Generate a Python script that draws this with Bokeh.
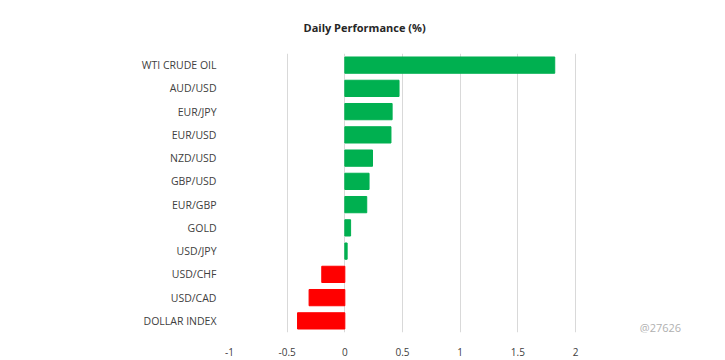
from bokeh.plotting import figure
from bokeh.models import FactorRange, Range1d, FixedTicker, Label, ColumnDataSource, Title
from bokeh.embed import file_html
from bokeh.resources import INLINE

categories = ["WTI CRUDE OIL", "AUD/USD", "EUR/JPY", "EUR/USD", "NZD/USD", "GBP/USD",
              "EUR/GBP", "GOLD", "USD/JPY", "USD/CHF", "USD/CAD", "DOLLAR INDEX"]
values = [1.82, 0.47, 0.41, 0.40, 0.24, 0.21, 0.19, 0.05, 0.02, -0.20, -0.31, -0.41]
x_ticks = [-1, -0.5, 0, 0.5, 1, 1.5, 2]
x_tick_labels = ["-1", "-0.5", "0", "0.5", "1", "1.5", "2"]
title_text = "Daily Performance (%)"
watermark = "@27626"

colors = ["#00B050" if v >= 0 else "#FF0000" for v in values]
src = ColumnDataSource(dict(cat=categories, val=values, color=colors))

# frame runs to the right edge so the watermark can sit inside it; axis ends at 2
px_per_unit = 346 / 3.0
x_end = 2 + 142 / px_per_unit

p = figure(width=717, height=358, output_backend="svg", toolbar_location=None,
           y_range=FactorRange(factors=list(reversed(categories))),
           x_range=Range1d(-1, x_end),
           min_border_left=229, min_border_right=0, min_border_top=53, min_border_bottom=23)
p.outline_line_color = None
p.background_fill_color = "white"
p.border_fill_color = "white"

p.add_layout(Title(text=title_text, align="left", offset=74, standoff=34,
                   vertical_align="top",
                   text_font="Open Sans", text_font_size="11px", text_font_style="bold",
                   text_color="#262626"), "above")

p.hbar(y="cat", left=0, right="val", height=0.7, color="color", source=src)

p.xaxis.ticker = FixedTicker(ticks=x_ticks)
p.xaxis.major_label_overrides = {t: l for t, l in zip(x_ticks, x_tick_labels)}
p.xaxis.axis_line_color = None
p.xaxis.major_tick_line_color = None
p.xaxis.minor_tick_line_color = None
p.xaxis.major_label_standoff = 9
p.xaxis.major_label_text_font = "Open Sans"
p.xaxis.major_label_text_font_size = "10px"
p.xaxis.major_label_text_color = "#404040"

p.yaxis.axis_line_color = None
p.yaxis.major_tick_line_color = None
p.yaxis.minor_tick_line_color = None
p.yaxis.major_label_standoff = 7
p.yaxis.major_label_text_font = "Open Sans"
p.yaxis.major_label_text_font_size = "10.5px"
p.yaxis.major_label_text_color = "#404040"

p.xgrid.grid_line_color = "#D9D9D9"
p.xgrid.ticker = FixedTicker(ticks=x_ticks)
p.ygrid.grid_line_color = None

p.add_layout(Label(x=431, y=5, x_units="screen", y_units="screen", text=watermark,
                   text_align="center", text_baseline="middle", text_font="Open Sans",
                   text_font_size="11px", text_color="#B0B0B0"))

open("out.html", "w").write(file_html(p, INLINE))
